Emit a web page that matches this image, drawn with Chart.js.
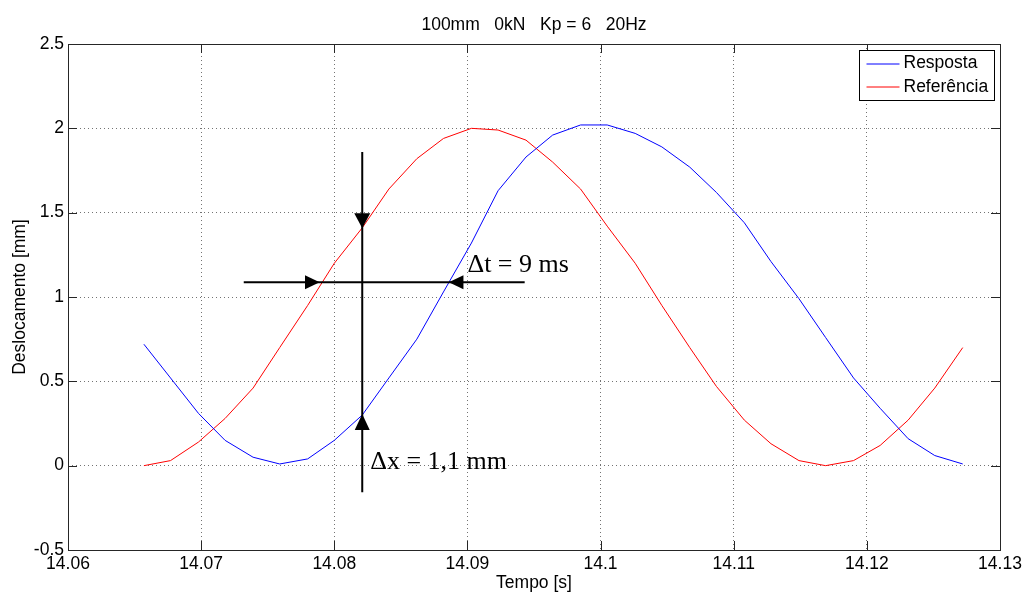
<!DOCTYPE html>
<html>
<head>
<meta charset="utf-8">
<script src="https://cdn.jsdelivr.net/npm/chart.js@4/dist/chart.umd.min.js"></script>
<style>
  html, body { margin: 0; padding: 0; background: #fff; }
  #wrap { width: 1029px; height: 592px; position: relative; }
</style>
</head>
<body>
<div id="wrap"><canvas id="grafico"></canvas></div>
<script>
// Resposta x Referência — 100mm, 0kN, Kp = 6, 20Hz
const TITULO = "100mm   0kN   Kp = 6   20Hz";
const SANS = '"Liberation Sans", Arial, sans-serif';
const SERIF = '"Liberation Serif", "Times New Roman", serif';

const TEMPO = [
  14.0657, 14.0677, 14.0698, 14.0718, 14.0739, 14.0759, 14.0780, 14.0800,
  14.0821, 14.0841, 14.0862, 14.0882, 14.0903, 14.0923, 14.0944, 14.0964,
  14.0985, 14.1005, 14.1026, 14.1046, 14.1067, 14.1087, 14.1108, 14.1128,
  14.1149, 14.1169, 14.1190, 14.1210, 14.1231, 14.1251, 14.1272
];
const RESPOSTA = [
  0.72, 0.52, 0.31, 0.15, 0.05, 0.01, 0.04, 0.15,
  0.30, 0.52, 0.75, 1.03, 1.32, 1.63, 1.83, 1.96,
  2.02, 2.02, 1.97, 1.89, 1.77, 1.62, 1.44, 1.21,
  0.99, 0.76, 0.52, 0.34, 0.16, 0.06, 0.01
];
const REFERENCIA = [
  0.00, 0.03, 0.14, 0.28, 0.46, 0.70, 0.95, 1.20,
  1.41, 1.64, 1.82, 1.94, 2.00, 1.99, 1.93, 1.80,
  1.64, 1.42, 1.20, 0.95, 0.70, 0.47, 0.27, 0.13,
  0.03, 0.00, 0.03, 0.12, 0.27, 0.46, 0.70
];

const X_MIN = 14.06, X_MAX = 14.13, X_STEP = 0.01;
const Y_MIN = -0.5, Y_MAX = 2.5, Y_STEP = 0.5;

// cotas desenhadas sobre o gráfico (unidades dos eixos)
const COTA_X = { t: 14.0821, topo: 1.86, base: -0.157, pontaBaixo: 1.407, baseBaixo: 1.496, pontaCima: 0.306, baseCima: 0.211 };
const COTA_T = { y: 1.0875, ini: 14.0732, fim: 14.0943, pontaDir: 14.0789, baseDir: 14.0778, pontaEsq: 14.0886, baseEsq: 14.0897 };
const TEXTO_DT = { t: 14.0900, y: 1.149, txt: "Δt = 9 ms" };
const TEXTO_DX = { t: 14.0827, y: -0.021, txt: "Δx = 1,1 mm" };

const SERIES = [
  { label: "Resposta", y: RESPOSTA, cor: "rgb(0,0,255)" },
  { label: "Referência", y: REFERENCIA, cor: "rgb(255,0,0)" },
];

function pontos(ys) {
  return TEMPO.map((t, i) => ({ x: t, y: ys[i] }));
}

function seta(ctx, ax, ay, bx, by, meia) {
  // ponta em (ax, ay), base centrada em (bx, by)
  const dx = ax - bx, dy = ay - by, L = Math.hypot(dx, dy);
  const nx = -dy / L * meia, ny = dx / L * meia;
  ctx.beginPath();
  ctx.moveTo(ax, ay);
  ctx.lineTo(bx + nx, by + ny);
  ctx.lineTo(bx - nx, by - ny);
  ctx.closePath();
  ctx.fill();
}

function linha(ctx, x1, y1, x2, y2) {
  ctx.beginPath();
  ctx.moveTo(x1, y1);
  ctx.lineTo(x2, y2);
  ctx.stroke();
}

const moldura = {
  id: "moldura",
  afterDraw(chart) {
    const { ctx, chartArea: a, scales: { x, y } } = chart;
    ctx.save();

    // título
    ctx.fillStyle = "#000";
    ctx.font = "17.5px " + SANS;
    ctx.textAlign = "center";
    ctx.textBaseline = "middle";
    ctx.fillText(TITULO, (a.left + a.right) / 2, 25);

    // caixa dos eixos e marcas para dentro
    ctx.strokeStyle = "#262626";
    ctx.lineWidth = 1;
    ctx.strokeRect(Math.round(a.left) + 0.5, Math.round(a.top) + 0.5,
      Math.round(a.right - a.left), Math.round(a.bottom - a.top));
    x.ticks.forEach(tk => {
      const px = Math.round(x.getPixelForValue(tk.value)) + 0.5;
      linha(ctx, px, a.bottom, px, a.bottom - 9);
      linha(ctx, px, a.top, px, a.top + 9);
    });
    y.ticks.forEach(tk => {
      const py = Math.round(y.getPixelForValue(tk.value)) + 0.5;
      linha(ctx, a.left, py, a.left + 9, py);
      linha(ctx, a.right, py, a.right - 9, py);
    });

    // cota vertical (Δx)
    ctx.strokeStyle = "#000";
    ctx.fillStyle = "#000";
    ctx.lineWidth = 2;
    const vx = x.getPixelForValue(COTA_X.t);
    linha(ctx, vx, y.getPixelForValue(COTA_X.topo), vx, y.getPixelForValue(COTA_X.base));
    seta(ctx, vx, y.getPixelForValue(COTA_X.pontaBaixo), vx, y.getPixelForValue(COTA_X.baseBaixo), 8);
    seta(ctx, vx, y.getPixelForValue(COTA_X.pontaCima), vx, y.getPixelForValue(COTA_X.baseCima), 7.5);

    // cota horizontal (Δt)
    const hy = y.getPixelForValue(COTA_T.y);
    linha(ctx, x.getPixelForValue(COTA_T.ini), hy, x.getPixelForValue(COTA_T.fim), hy);
    seta(ctx, x.getPixelForValue(COTA_T.pontaDir), hy, x.getPixelForValue(COTA_T.baseDir), hy, 7);
    seta(ctx, x.getPixelForValue(COTA_T.pontaEsq), hy, x.getPixelForValue(COTA_T.baseEsq), hy, 7);

    ctx.font = "26px " + SERIF;
    ctx.textAlign = "left";
    ctx.textBaseline = "alphabetic";
    [TEXTO_DT, TEXTO_DX].forEach(tx => {
      ctx.fillText(tx.txt, x.getPixelForValue(tx.t), y.getPixelForValue(tx.y));
    });

    // legenda
    ctx.font = "17.5px " + SANS;
    const larguraTxt = Math.max(...SERIES.map(s => ctx.measureText(s.label).width));
    const w = Math.round(7 + 33 + 4 + larguraTxt + 6), h = 50;
    const lx = Math.round(a.right - 6 - w) + 0.5, ly = Math.round(a.top + 6) + 0.5;
    ctx.fillStyle = "#fff";
    ctx.fillRect(lx, ly, w, h);
    ctx.strokeStyle = "#000";
    ctx.lineWidth = 1;
    ctx.strokeRect(lx, ly, w, h);
    ctx.textBaseline = "middle";
    SERIES.forEach((s, i) => {
      const ry = ly + 13 + i * 23.5;
      ctx.strokeStyle = s.cor;
      linha(ctx, lx + 7, Math.round(ry), lx + 40, Math.round(ry));
      ctx.fillStyle = "#000";
      ctx.fillText(s.label, lx + 44, ry);
    });

    ctx.restore();
  }
};

const fmt = (d) => (v) => String(Number(v.toFixed(d)));

new Chart(document.getElementById("grafico").getContext("2d"), {
  type: "line",
  data: {
    datasets: SERIES.map(s => ({
      label: s.label,
      data: pontos(s.y),
      borderColor: s.cor,
      backgroundColor: s.cor,
      borderWidth: 1,
      pointRadius: 0,
      tension: 0,
      fill: false,
    }))
  },
  options: {
    responsive: true,
    maintainAspectRatio: false,
    animation: false,
    devicePixelRatio: 1,
    layout: { padding: { top: 44, right: 29, left: 0, bottom: 0 } },
    plugins: {
      legend: { display: false },
      title: { display: false },
      tooltip: { enabled: false },
    },
    scales: {
      x: {
        type: "linear",
        min: X_MIN,
        max: X_MAX,
        afterFit: (s) => { s.height = 42; },
        ticks: { stepSize: X_STEP, autoSkip: false, maxRotation: 0, padding: 4, color: "#000",
                 font: { family: SANS, size: 17.5 }, callback: fmt(2) },
        grid: { color: "rgba(0,0,0,0.55)", lineWidth: 1, drawTicks: false },
        border: { display: false, dash: [1, 3] },
        title: { display: true, text: "Tempo [s]", color: "#000", font: { family: SANS, size: 17.5 },
                 padding: { top: 0, bottom: -1.5 } },
      },
      y: {
        type: "linear",
        min: Y_MIN,
        max: Y_MAX,
        afterFit: (s) => { s.width = 68; },
        ticks: { stepSize: Y_STEP, autoSkip: false, padding: 4, color: "#000",
                 font: { family: SANS, size: 17.5 }, callback: fmt(1) },
        grid: { color: "rgba(0,0,0,0.55)", lineWidth: 1, drawTicks: false },
        border: { display: false, dash: [1, 3] },
        title: { display: true, text: "Deslocamento [mm]", color: "#000", font: { family: SANS, size: 17.5 },
                 padding: { top: 10, bottom: 0 } },
      }
    }
  },
  plugins: [moldura]
});
</script>
</body>
</html>
